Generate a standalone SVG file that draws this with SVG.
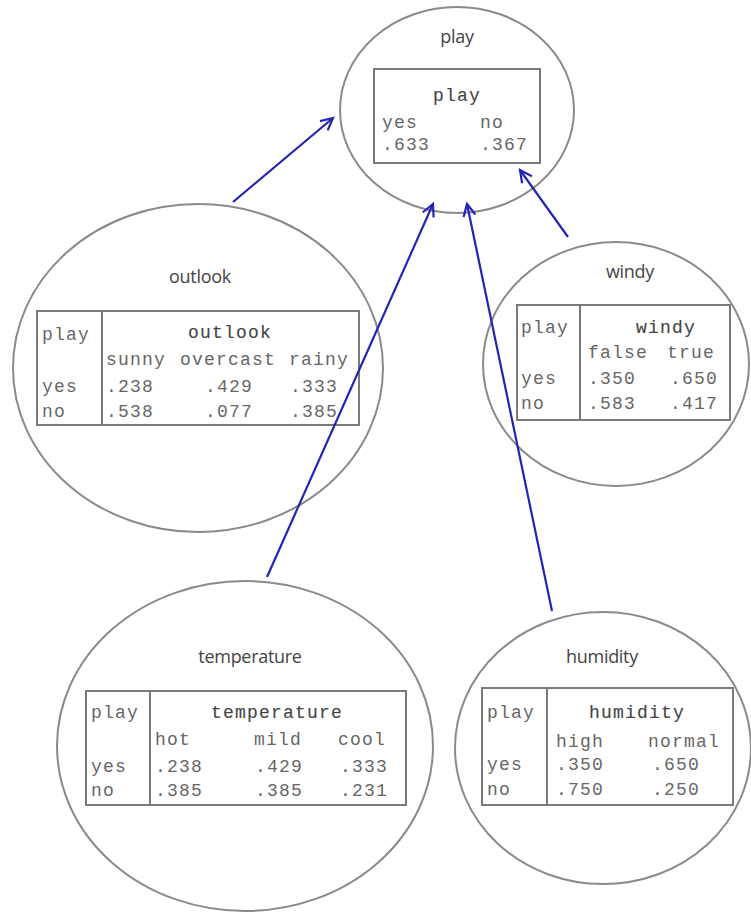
<svg xmlns="http://www.w3.org/2000/svg" width="751" height="913" viewBox="0 0 751 913">
<style>
.node{fill:#fff;stroke:#8a8a8a;stroke-width:2}
.tbl{fill:none;stroke:#7a7a7a;stroke-width:2}
.div{stroke:#7a7a7a;stroke-width:2}
.lbl{font-family:"Open Sans","Liberation Sans",sans-serif;font-size:18px;fill:#444;text-anchor:middle;letter-spacing:-0.3px}
.m{font-family:"Liberation Mono","Courier New",monospace;font-size:18px;letter-spacing:1.2px;fill:#666}
.h{font-family:"Liberation Mono","Courier New",monospace;font-size:18px;letter-spacing:1.2px;fill:#444;stroke:#555;stroke-width:0.15;text-anchor:middle}
.edge{stroke:#2424b4;stroke-width:2.2;fill:none;marker-end:url(#arr)}
</style>
<defs>
<marker id="arr" markerUnits="userSpaceOnUse" markerWidth="16" markerHeight="16" refX="13" refY="7" orient="auto">
<path d="M1,1 L13,7 L1,13" fill="none" stroke="#2424b4" stroke-width="2.2"/>
</marker>
</defs>
<rect width="751" height="913" fill="#fff"/>

<g id="node-play">
<ellipse class="node" cx="457" cy="110" rx="117" ry="103"/>
<text class="lbl" x="457" y="43">play</text>
<rect class="tbl" x="374" y="69" width="166" height="94"/>
<text class="h" x="457" y="101">play</text>
<text class="m" x="382" y="128">yes</text>
<text class="m" x="480" y="128">no</text>
<text class="m" x="382" y="150">.633</text>
<text class="m" x="480" y="150">.367</text>
</g>

<g id="node-outlook">
<ellipse class="node" cx="198" cy="368" rx="185" ry="164"/>
<text class="lbl" x="200" y="283">outlook</text>
<rect class="tbl" x="37" y="311" width="322" height="114"/>
<line class="div" x1="102" y1="311" x2="102" y2="425"/>
<text class="m" x="42" y="340">play</text>
<text class="h" x="230" y="338">outlook</text>
<text class="m" x="106" y="365">sunny</text>
<text class="m" x="180" y="365">overcast</text>
<text class="m" x="289" y="365">rainy</text>
<text class="m" x="42" y="392">yes</text>
<text class="m" x="106" y="392">.238</text>
<text class="m" x="205" y="392">.429</text>
<text class="m" x="290" y="392">.333</text>
<text class="m" x="42" y="417">no</text>
<text class="m" x="106" y="417">.538</text>
<text class="m" x="205" y="417">.077</text>
<text class="m" x="290" y="417">.385</text>
</g>

<g id="node-windy">
<ellipse class="node" cx="616" cy="364" rx="133" ry="122"/>
<text class="lbl" x="630" y="278">windy</text>
<rect class="tbl" x="517" y="305" width="213" height="115"/>
<line class="div" x1="580" y1="305" x2="580" y2="420"/>
<text class="m" x="521" y="333">play</text>
<text class="h" x="666" y="333">windy</text>
<text class="m" x="588" y="358">false</text>
<text class="m" x="667" y="358">true</text>
<text class="m" x="521" y="384">yes</text>
<text class="m" x="588" y="384">.350</text>
<text class="m" x="670" y="384">.650</text>
<text class="m" x="521" y="409">no</text>
<text class="m" x="588" y="409">.583</text>
<text class="m" x="670" y="409">.417</text>
</g>

<g id="node-temperature">
<ellipse class="node" cx="245" cy="746" rx="188" ry="165"/>
<text class="lbl" x="250" y="663">temperature</text>
<rect class="tbl" x="86" y="691" width="320" height="114"/>
<line class="div" x1="150" y1="691" x2="150" y2="805"/>
<text class="m" x="91" y="718">play</text>
<text class="h" x="277" y="718">temperature</text>
<text class="m" x="155" y="745">hot</text>
<text class="m" x="254" y="745">mild</text>
<text class="m" x="338" y="745">cool</text>
<text class="m" x="91" y="772">yes</text>
<text class="m" x="155" y="772">.238</text>
<text class="m" x="255" y="772">.429</text>
<text class="m" x="340" y="772">.333</text>
<text class="m" x="91" y="796">no</text>
<text class="m" x="155" y="796">.385</text>
<text class="m" x="255" y="796">.385</text>
<text class="m" x="340" y="796">.231</text>
</g>

<g id="node-humidity">
<ellipse class="node" cx="603" cy="748" rx="148" ry="136"/>
<text class="lbl" x="602" y="663">humidity</text>
<rect class="tbl" x="482" y="688" width="251" height="117"/>
<line class="div" x1="547" y1="688" x2="547" y2="805"/>
<text class="m" x="487" y="718">play</text>
<text class="h" x="637" y="718">humidity</text>
<text class="m" x="556" y="747">high</text>
<text class="m" x="648" y="747">normal</text>
<text class="m" x="487" y="770">yes</text>
<text class="m" x="556" y="770">.350</text>
<text class="m" x="652" y="770">.650</text>
<text class="m" x="487" y="795">no</text>
<text class="m" x="556" y="795">.750</text>
<text class="m" x="652" y="795">.250</text>
</g>

<g id="connectors">
<line class="edge" x1="233" y1="202" x2="333" y2="118"/>
<line class="edge" x1="568" y1="237" x2="520" y2="170"/>
<line class="edge" x1="267" y1="577" x2="433" y2="204"/>
<line class="edge" x1="552" y1="611" x2="467" y2="204"/>
</g>
</svg>
